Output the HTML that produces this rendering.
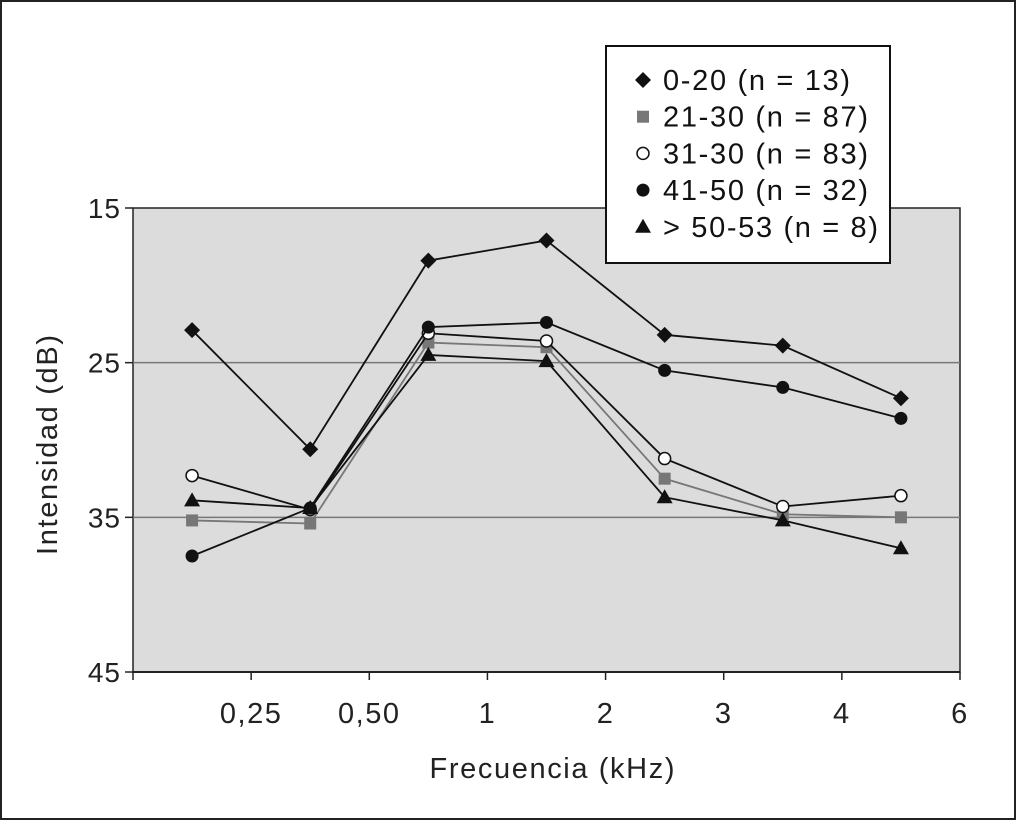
<!DOCTYPE html>
<html><head><meta charset="utf-8"><style>
body{margin:0;background:#fff}
svg{display:block;font-family:"Liberation Sans",sans-serif}
</style></head><body>
<svg id="c" width="1016" height="820">
<rect x="1" y="1" width="1014" height="818" fill="#fff" stroke="#222" stroke-width="2"/>
</svg>
<script>
const categories=["0,125","0,25","0,50","1","2","3","4","6"];
const tickLabels=["0,25","0,50","1","2","3","4","6"];
const yTicks=[15,25,35,45];
const s0=[22.9,30.6,18.4,17.1,23.2,23.9,27.3];
const s1=[35.2,35.4,23.7,24.0,32.5,34.8,35.0];
const s2=[32.3,34.5,23.1,23.6,31.2,34.3,33.6];
const s3=[37.5,34.4,22.7,22.4,25.5,26.6,28.6];
const s4=[33.9,34.4,24.5,24.9,33.7,35.2,37.0];
const names=["0-20 (n = 13)","21-30 (n = 87)","31-30 (n = 83)","41-50 (n = 32)","> 50-53 (n = 8)"];
const NS="http://www.w3.org/2000/svg",svg=document.getElementById("c");
const X0=133,X1=960,Y0=208,Y1=672,n=7,bw=(X1-X0)/n;
const x=i=>X0+bw*(i+0.5), y=v=>Y0+(v-15)/30*(Y1-Y0);
function mk(t,a,p){const e=document.createElementNS(NS,t);for(const k in a)e.setAttribute(k,a[k]);(p||svg).appendChild(e);return e;}
let e=mk("rect",{x:X0,y:Y0,width:X1-X0,height:Y1-Y0,fill:"#dcdcdc",stroke:"#222","stroke-width":1.5});


yTicks.forEach(v=>{
 if(v>15&&v<45){let g=mk("line",{x1:X0,x2:X1,y1:y(v),y2:y(v),stroke:"#777","stroke-width":1.5});
 
 }
 let l=mk("line",{x1:X0-8,x2:X0,y1:y(v),y2:y(v),stroke:"#222","stroke-width":1.5});
 
 
 let t=mk("text",{x:X0-12,y:y(v)+10,"text-anchor":"end","font-size":28,"letter-spacing":1,fill:"#222"});t.textContent=v;
 
 
});
let ax=mk("line",{x1:X0,x2:X1,y1:Y1,y2:Y1,stroke:"#222","stroke-width":2});


for(let i=0;i<=n;i++){let l=mk("line",{x1:X0+bw*i,x2:X0+bw*i,y1:Y1,y2:Y1+8,stroke:"#222","stroke-width":1.5});
 
 }
tickLabels.forEach((s,i)=>{
 let t=mk("text",{x:X0+bw*(i+1),y:Y1+51,"text-anchor":"middle","font-size":29,"letter-spacing":1.5,fill:"#222"});t.textContent=s;
 
 });
let xt=mk("text",{x:552,y:778,"text-anchor":"middle","font-size":29,textLength:245,lengthAdjust:"spacing",fill:"#222"});xt.textContent="Frecuencia (kHz)";


let yt=mk("text",{x:0,y:0,"text-anchor":"middle","font-size":29,textLength:220,lengthAdjust:"spacing",fill:"#222",transform:"translate(57,445) rotate(-90)"});yt.textContent="Intensidad (dB)";


function marker(k,cx,cy,p){
 if(k==0)return mk("polygon",{points:`${cx},${cy-8} ${cx+8},${cy} ${cx},${cy+8} ${cx-8},${cy}`,fill:"#111"},p);
 if(k==1)return mk("rect",{x:cx-6,y:cy-6,width:12,height:12,fill:"#777"},p);
 if(k==2)return mk("circle",{cx,cy,r:6,fill:"#fff",stroke:"#111","stroke-width":1.5},p);
 if(k==3)return mk("circle",{cx,cy,r:6.5,fill:"#111"},p);
 return mk("polygon",{points:`${cx},${cy-8} ${cx+8},${cy+6} ${cx-8},${cy+6}`,fill:"#111"},p);
}
[s0,s1,s2,s3,s4].forEach((s,k)=>{
 const g=mk("g",{});
 
 
 let pl=mk("polyline",{points:s.map((v,i)=>x(i)+","+y(v)).join(" "),fill:"none",stroke:k==1?"#777":"#111","stroke-width":1.8},g);
 
 
 s.forEach((v,i)=>{let m=marker(k,x(i),y(v),g);
  
  });
});
let lg=mk("g",{});


mk("rect",{x:606,y:46,width:284,height:217,fill:"#fff",stroke:"#111","stroke-width":2},lg);
const lw=[187,205,205,205,215];
names.forEach((s,k)=>{
 const cy=80+k*36.7;
 let m=marker(k,643,cy,lg);
 
 
 let t=mk("text",{x:663,y:cy+10,"font-size":29,textLength:lw[k],lengthAdjust:"spacing",fill:"#111"},lg);t.textContent=s;
 
 
});
</script>
</body></html>
